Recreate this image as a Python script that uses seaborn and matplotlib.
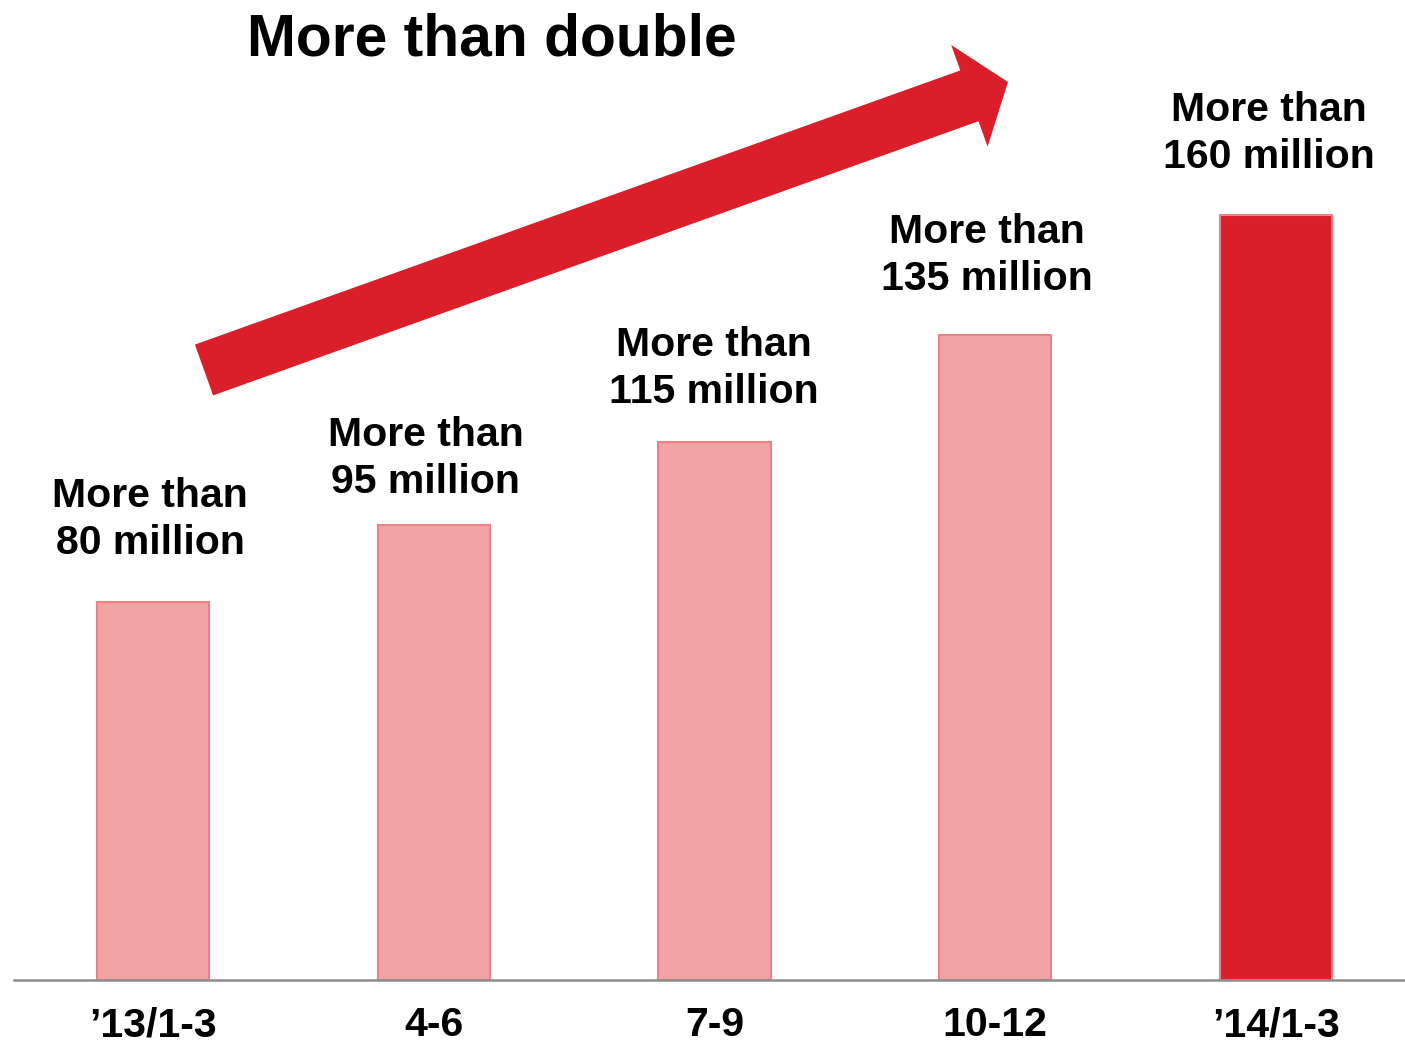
import matplotlib
matplotlib.use("Agg")
import matplotlib.pyplot as plt
import matplotlib.patches as mpatches
import seaborn as sns
import pandas as pd

# ---- data ----
periods = ["’13/1-3", "4-6", "7-9", "10-12", "’14/1-3"]
values = [79.1, 95.2, 112.5, 134.9, 160.0]
label_top = ["More than", "More than", "More than", "More than", "More than"]
label_bottom = ["80 million", "95 million", "115 million", "135 million", "160 million"]
title_text = "More than double"

# ---- styles ----
light = "#F2A3A6"
dark = "#DA1F2B"
edge_light = "#EE8088"
bar_colors = [light, light, light, light, dark]
# label offsets from bar top (pixels): (dx, dy of lower baseline)
label_offsets = [(-3, 48), (-8, 32), (-1, 39), (-8, 45), (-7, 47)]

sns.set_theme(style="white")
plt.rcParams["font.family"] = ["Liberation Sans", "DejaVu Sans"]

fig = plt.figure(figsize=(14.05, 10.45), dpi=100)
ax = fig.add_axes([14 / 1405, 65 / 1045, 1 - 14 / 1405, 1 - 65 / 1045])

df = pd.DataFrame({"period": periods, "value": values})
sns.barplot(data=df, x="period", y="value", hue="period", palette=bar_colors,
            legend=False, width=0.4, edgecolor=edge_light, linewidth=1.5,
            saturation=1, ax=ax)

ax.set_xlim(-0.495, 4.46)
ax.set_ylim(0, 980 / (765 / 160))
for s in ["top", "left", "right"]:
    ax.spines[s].set_visible(False)
ax.spines["bottom"].set_color("#8C8C8C")
ax.spines["bottom"].set_linewidth(1.8)
ax.set_yticks([])
ax.set_xlabel("")
ax.set_ylabel("")
ax.tick_params(axis="x", length=0, pad=19)
for t in ax.get_xticklabels():
    t.set_fontsize(29.5)
    t.set_fontweight("bold")
    t.set_color("black")

px = 0.72  # points per pixel at 100 dpi
for i, v in enumerate(values):
    dx, dy = label_offsets[i]
    ax.annotate(label_bottom[i], xy=(i, v), xytext=(dx * px, dy * px),
                textcoords="offset points", ha="center", va="baseline",
                fontsize=29.5, fontweight="bold", color="black")
    ax.annotate(label_top[i], xy=(i, v), xytext=(dx * px, (dy + 47) * px),
                textcoords="offset points", ha="center", va="baseline",
                fontsize=29.5, fontweight="bold", color="black")

# arrow (in inches, isotropic)
arrow = mpatches.FancyArrow(2.04, (1045 - 370) / 100, (1008 - 204) / 100,
                            (370 - 82) / 100, width=0.54, head_width=1.08,
                            head_length=0.41, length_includes_head=True,
                            transform=fig.dpi_scale_trans, color=dark,
                            linewidth=0)
fig.patches.append(arrow)

fig.text(491.5 / 1405, (1045 - 56) / 1045, title_text, ha="center",
         va="baseline", fontsize=42.3, fontweight="bold", color="black")

fig.savefig("out.png", dpi=100)
